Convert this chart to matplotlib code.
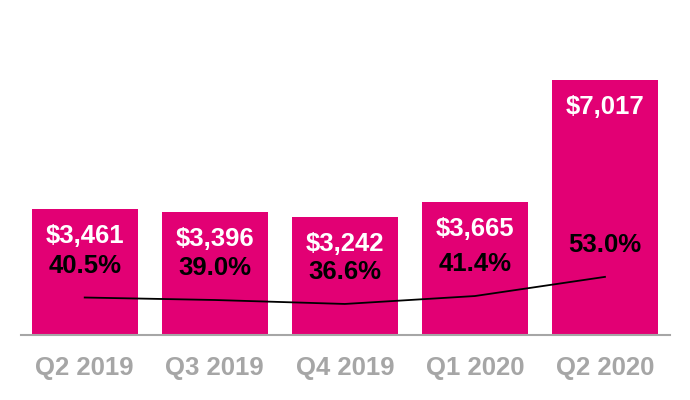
import numpy as np
import matplotlib.pyplot as plt

plt.rcParams['font.family'] = ['Liberation Sans', 'DejaVu Sans']

# data
quarters = ['Q2 2019', 'Q3 2019', 'Q4 2019', 'Q1 2020', 'Q2 2020']
revenue = [3461, 3396, 3242, 3665, 7017]
margin = [40.5, 39.0, 36.6, 41.4, 53.0]

magenta = '#E20074'
grey = '#A6A6A6'

fig = plt.figure(figsize=(6.9, 4), dpi=100)
ax = fig.add_axes([0.0304, 0.1625, 0.9406, 0.715])
x = np.arange(len(quarters))

ax.bar(x, revenue, width=0.815, color=magenta, zorder=2)
ax.set_xlim(-0.49, 4.5)
ax.set_ylim(0, 7880)

for s in ['top', 'right', 'left']:
    ax.spines[s].set_visible(False)
ax.spines['bottom'].set_color(grey)
ax.spines['bottom'].set_linewidth(1.5)
ax.set_yticks([])
ax.set_xticks(x)
ax.set_xticklabels(quarters, fontsize=18.5, fontweight='bold', color=grey)
ax.tick_params(axis='x', length=0, pad=15)

for xi, v in zip(x, revenue):
    ax.annotate(f'${v:,}', (xi, v), xytext=(0, -27), textcoords='offset pixels',
                ha='center', va='center', color='white', fontsize=18.5,
                fontweight='bold')

# margin line on a second scale
ax2 = ax.twinx()
ax2.set_ylim(17.8, 191)
ax2.axis('off')
ax2.plot(x, margin, color='black', lw=1.3, zorder=3)
for xi, p in zip(x, margin):
    ax2.annotate(f'{p:.1f}%', (xi, p), xytext=(0, 32), textcoords='offset pixels',
                 ha='center', va='center', color='black', fontsize=18.5,
                 fontweight='bold')

fig.savefig('out.png', dpi=100)
